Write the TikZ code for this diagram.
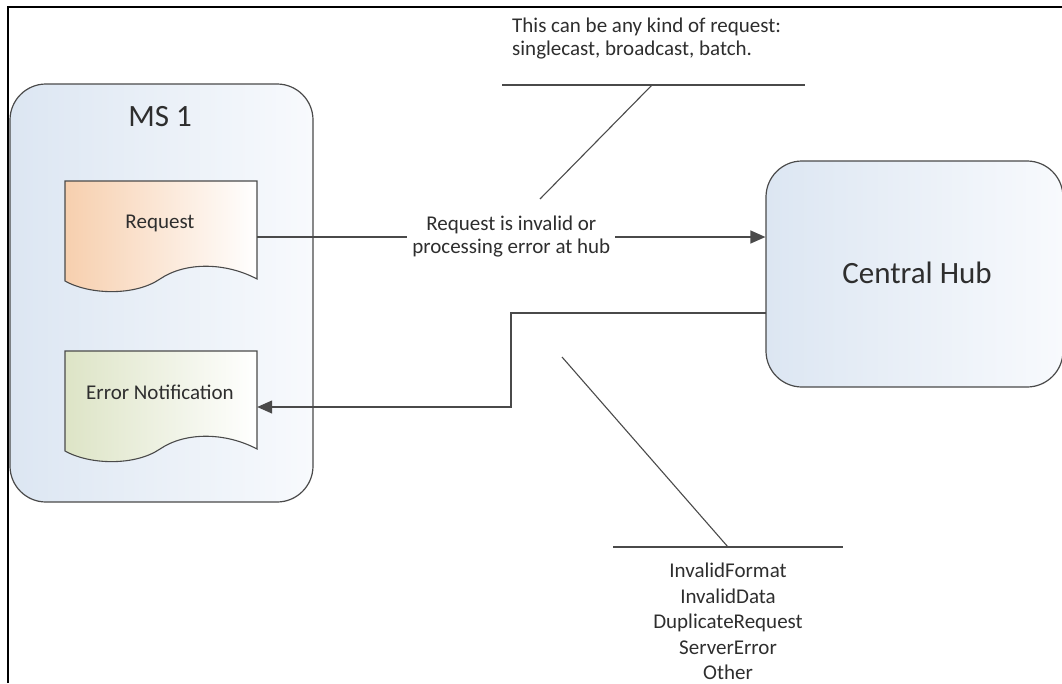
\documentclass[tikz,border=0pt]{standalone}
\usepackage{fontspec}
\setmainfont{Carlito}
\usetikzlibrary{arrows.meta}
\definecolor{linegray}{HTML}{4A4A4A}
\definecolor{textgray}{HTML}{2E2E2E}
\definecolor{boxblue}{HTML}{DCE6F2}
\definecolor{boxwhite}{HTML}{F8FAFD}
\definecolor{docpeach}{HTML}{F7CFAE}
\definecolor{docgreen}{HTML}{DDE4C6}
\tikzset{
  container/.style={draw=linegray, line width=1.2pt, rounded corners=36pt,
    left color=boxblue, right color=boxwhite, inner sep=0pt},
  bigtext/.style={text=textgray, font=\fontsize{31}{35}\selectfont},
  smalltext/.style={text=textgray, font=\fontsize{21}{23}\selectfont, inner sep=0pt},
  docarea/.style={inner sep=0pt, minimum width=192pt, minimum height=112pt},
  docedge/.style={draw=linegray, line width=1.1pt},
  conn/.style={draw=linegray, line width=1.3pt},
  arr/.style={conn, -{Triangle[length=15pt,width=13pt]}},
  callout/.style={draw=linegray, line width=1.1pt},
}
\begin{document}
\begin{tikzpicture}[x=1pt, y=-1pt]
\useasboundingbox (0,0) rectangle (1062,683);
% outer frame (clipped at right and bottom)
\draw[line width=2pt, black] (8,683) -- (8,7) -- (1062,7);

% microservice container
\node[container, minimum width=303pt, minimum height=418pt] (ms) at (161.5,293) {};
\node[bigtext] (mstitle) at (160,117) {MS 1};

% document shapes
\path[docedge, left color=docpeach, right color=white]
  (65,181) -- (257,181) -- (257,279)
  .. controls (225,262) and (185,262) .. (160,279)
  .. controls (135,296) and (90,295) .. (65,281) -- cycle;
\node[docarea] (reqdoc) at (161,237) {};
\node[smalltext] (reqtext) at (160,223) {Request};

\path[docedge, left color=docgreen, right color=white]
  (65,351) -- (257,351) -- (257,449)
  .. controls (225,432) and (185,432) .. (160,449)
  .. controls (135,466) and (90,465) .. (65,451) -- cycle;
\node[docarea] (errdoc) at (161,407) {};
\node[smalltext] (errtext) at (160,392) {Error Notification};

% hub
\node[container, minimum width=297pt, minimum height=226pt] (hub) at (914.5,274) {};
\node[bigtext] (hubtext) at (917,273) {Central Hub};

% request flow
\draw[arr] (reqdoc.east) -- node[smalltext, fill=white, inner xsep=5pt, inner ysep=2pt, align=center]
  (reqlabel) {Request is invalid or\\processing error at hub} (reqdoc.east -| hub.west);

% error response flow
\coordinate (hubout) at (766,313);
\coordinate (bend) at (511,313);
\draw[arr] (hubout) -- (bend) -- (bend |- errdoc.east) -- (errdoc.east);

% callout: request kinds
\node[smalltext, anchor=north west, align=left] (note1) at (512,18)
  {This can be any kind of request:\\singlecast, broadcast, batch.};
\coordinate (n1l) at (502,85);
\coordinate (n1r) at (805,85);
\coordinate (n1k) at (652,85);
\coordinate (n1t) at (540,199);
\draw[callout] (n1l) -- (n1r);
\draw[callout] (n1k) -- (n1t);

% callout: error codes
\coordinate (n2l) at (613,547);
\coordinate (n2r) at (843,547);
\coordinate (n2k) at (728,547);
\coordinate (n2t) at (562,357);
\draw[callout] (n2l) -- (n2r);
\draw[callout] (n2k) -- (n2t);
\node[smalltext, anchor=north, align=center, font=\fontsize{21}{25.5}\selectfont] (note2) at (728,563)
  {InvalidFormat\\InvalidData\\DuplicateRequest\\ServerError\\Other};
\end{tikzpicture}
\end{document}
